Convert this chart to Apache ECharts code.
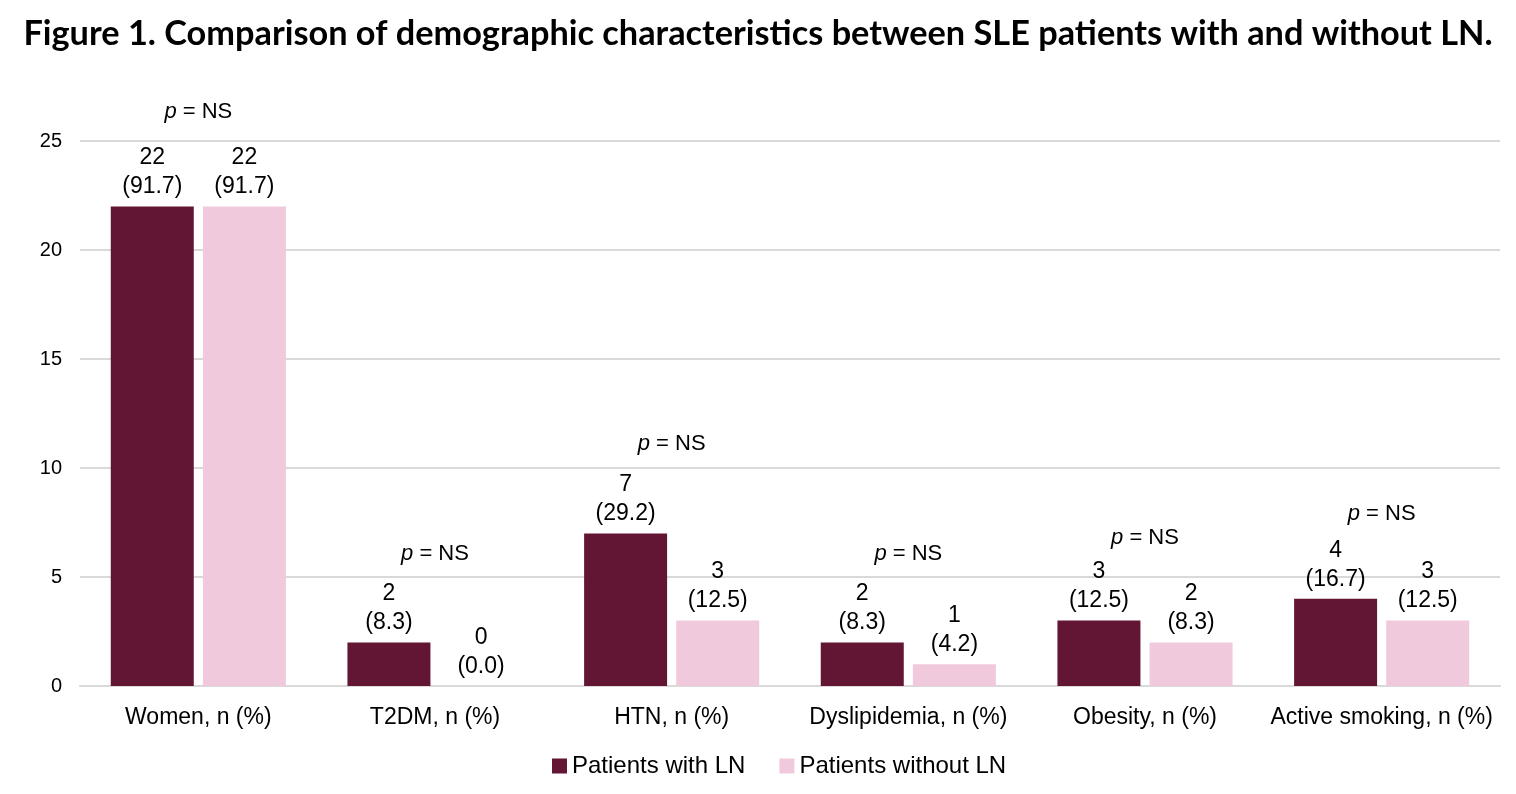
<!DOCTYPE html>
<html><head><meta charset="utf-8">
<script src="https://cdn.jsdelivr.net/npm/echarts@6/dist/echarts.min.js"></script>
<style>html,body{margin:0;padding:0;background:#fff}#c{width:1516px;height:794px}</style>
</head><body><div id="c"></div>
<script>
const categories = ['Women, n (%)', 'T2DM, n (%)', 'HTN, n (%)', 'Dyslipidemia, n (%)', 'Obesity, n (%)', 'Active smoking, n (%)'];
const withLN = [22, 2, 7, 2, 3, 4];
const withLNPct = ['91.7', '8.3', '29.2', '8.3', '12.5', '16.7'];
const withoutLN = [22, 0, 3, 1, 2, 3];
const withoutLNPct = ['91.7', '0.0', '12.5', '4.2', '8.3', '12.5'];
const pLabelY = [26.33, 6.06, 11.1, 6.06, 6.79, 7.89];
const yTicks = [0, 5, 10, 15, 20, 25];

const chart = echarts.init(document.getElementById('c'));
const font = 'Liberation Sans, Arial, sans-serif';
const barLabel = (pcts) => ({
  show: true, position: 'top', distance: 5, color: '#000', fontFamily: font, fontSize: 23, lineHeight: 29,
  formatter: p => p.value + '\n(' + pcts[p.dataIndex] + ')'
});
chart.setOption({
  animation: false,
  title: {
    text: 'Figure 1. Comparison of demographic characteristics between SLE patients with and without LN.',
    left: 'center', top: 12,
    textStyle: { fontFamily: 'Lato, Open Sans, sans-serif', fontWeight: 'bold', fontSize: 34.3, color: '#000' }
  },
  legend: {
    bottom: 11, left: 547, itemWidth: 15, itemHeight: 15, itemGap: 34, icon: 'rect',
    textStyle: { fontFamily: font, fontSize: 24, color: '#000' },
    data: ['Patients with LN', 'Patients without LN']
  },
  grid: { left: 80, right: 16, top: 141, bottom: 108 },
  xAxis: {
    type: 'category', data: categories,
    axisLine: { lineStyle: { color: '#d9d9d9', width: 2 } }, axisTick: { show: false },
    axisLabel: { fontFamily: font, fontSize: 23, color: '#000', margin: 20, interval: 0 }
  },
  yAxis: {
    type: 'value', min: yTicks[0], max: yTicks[yTicks.length - 1], interval: 5,
    axisLabel: { fontFamily: font, fontSize: 20, color: '#000', margin: 18 },
    splitLine: { lineStyle: { color: '#d9d9d9', width: 2 } }
  },
  series: [
    { name: 'Patients with LN', type: 'bar', data: withLN, barWidth: 83, barGap: '11%',
      itemStyle: { color: '#621634' }, label: barLabel(withLNPct) },
    { name: 'Patients without LN', type: 'bar', data: withoutLN, barWidth: 83,
      itemStyle: { color: '#f1c9dc' }, label: barLabel(withoutLNPct) },
    { name: 'p', type: 'scatter', data: pLabelY, symbolSize: 0, clip: false, silent: true,
      itemStyle: { opacity: 1 },
      label: { show: true, position: 'inside', formatter: '{i|p} = NS', opacity: 1,
        fontFamily: font, fontSize: 22, color: '#000',
        rich: { i: { fontStyle: 'italic', fontFamily: font, fontSize: 22, color: '#000' } } } }
  ]
});
</script></body></html>
